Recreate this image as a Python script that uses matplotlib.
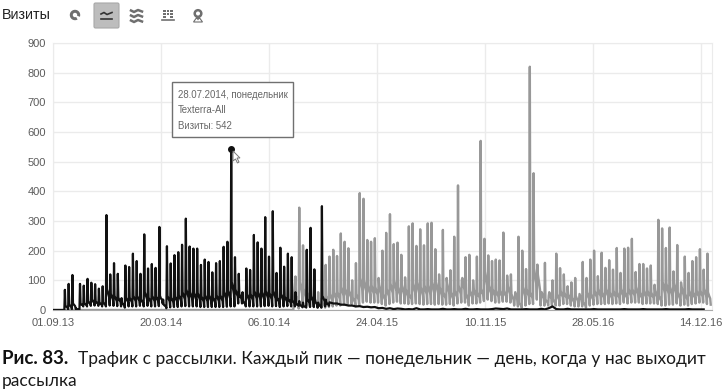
import numpy as np
import matplotlib
matplotlib.use("Agg")
import matplotlib.pyplot as plt
from matplotlib.patches import FancyBboxPatch, Rectangle, Wedge, Polygon, Circle

tick_days = [0, 200, 400, 600, 800, 1000, 1200]
tick_labels = ["01.09.13", "20.03.14", "06.10.14", "24.04.15", "10.11.15", "28.05.16", "14.12.16"]
y_ticks = [0, 100, 200, 300, 400, 500, 600, 700, 800, 900]

first_monday = 22
black_peaks = [68,88,118,5,88,82,105,92,87,72,
               80,320,120,158,122,40,150,145,190,165,
               122,255,140,155,142,280,35,215,157,185,
               195,220,308,214,207,207,152,170,162,127,
               158,165,213,230,542,178,122,60,140,135,
               253,228,207,313,180,333,125,210,146,190,
               178,60,30,25,203,277,137,25,350,35]
black_shoulders = [14,18,22,3,22,24,30,36,30,26,
                   26,70,55,48,42,24,42,42,48,48,
                   36,60,42,48,46,48,18,48,42,46,
                   50,60,70,60,58,58,46,50,50,42,
                   50,50,62,66,95,70,55,30,54,54,
                   65,60,60,65,58,65,42,54,46,38,
                   34,22,18,14,38,46,30,18,48,26]
black_troughs = [2,3,4,2,12,12,14,15,14,12,
                 12,15,14,13,12,8,12,12,12,14,
                 12,14,12,12,13,22,6,9,10,10,
                 12,13,12,12,12,10,10,10,10,10,
                 10,10,11,12,12,22,22,12,12,12,
                 12,12,13,14,12,13,10,12,13,12,
                 12,14,9,8,10,10,8,8,12,14]
black_tail = [26,22,22,18,18,15,15,12,13,10,11,9,10,6,7,4,6,3,5,4,
              2,3,2,6,2,2,3,2,2,2,4,2,2,3,2,2,4,2,2,3,
              2,2,2,3,5,4,3,5,2,2,2,2,3,2,2,2,4,2,6,12,
              3,2,2,4,2,2,2,2,2,2,3,2,2,2,2,2,2,2,3,2,
              2,2,2,3,2,2,2,2,2,3,2,2,2,2,2,3,2,2,2,2]

gray_first_week = 61
gray_peaks = [113,345,218,200,150,100,60,40,152,180,
              203,182,258,230,208,100,158,394,375,
              236,230,242,108,200,260,323,222,227,186,
              110,282,292,216,272,218,292,294,205,120,
              270,108,134,247,420,100,178,186,100,180,
              570,240,184,165,170,167,261,116,120,35,
              247,200,138,820,461,153,57,159,48,100,
              190,141,120,80,93,108,28,162,108,170,
              200,114,193,142,168,136,209,125,207,210,
              240,128,155,155,140,150,85,304,275,209,
              278,130,219,93,180,125,165,178,205,136,
              190]
gray_shoulders = [48,95,72,60,48,36,24,22,48,54,
                  60,60,78,72,66,42,54,108,100,84,
                  84,78,84,54,72,90,100,78,84,72,
                  54,90,95,78,84,84,95,95,78,60,
                  90,60,66,84,108,54,66,72,60,72,
                  130,84,72,66,66,66,84,54,60,24,
                  78,72,60,140,118,60,36,60,36,54,
                  66,60,54,42,48,54,26,60,54,66,
                  72,60,72,60,66,60,72,60,72,72,
                  78,60,66,66,60,66,48,95,90,78,
                  90,60,78,54,66,60,66,66,72,60]
gray_troughs = [5,15,15,12,10,8,8,8,10,12,
                15,15,18,20,20,12,15,25,28,25,
                25,25,20,15,20,25,28,22,22,20,
                20,22,20,18,20,20,18,20,18,18,
                20,15,22,25,25,15,22,22,25,30,
                35,30,25,25,28,28,25,15,12,8,
                15,20,20,35,15,15,15,15,15,15,
                20,20,15,12,12,12,8,15,18,20,
                20,20,22,20,22,20,25,22,25,25,
                25,20,22,22,22,20,15,15,18,18,
                22,15,18,15,20,22,25,25,20,18]
assert len(gray_peaks) == len(gray_shoulders) == len(gray_troughs)
assert len(black_peaks) == len(black_shoulders) == len(black_troughs)

highlight_day = 330
highlight_value = 542


def weekly(start_week, peaks, shoulders, troughs):
    xs, ys = [], []
    for i, (p, s, t) in enumerate(zip(peaks, shoulders, troughs)):
        d = first_monday + 7 * (start_week + i)
        xs += [d, d + 1, d + 3, d + 5, d + 6]
        ys += [p, s, s * 0.8, (s + t) / 2, t]
    return xs, ys


plt.rcParams["font.family"] = ["Liberation Sans", "DejaVu Sans"]
fig = plt.figure(figsize=(7.24, 3.91), dpi=100)
W, H = 724, 391
L, R, T, B = 53, 712, 43, 310
ax = fig.add_axes([L / W, 1 - B / H, (R - L) / W, (B - T) / H])
ax.set_xlim(0, (R - L) / 0.54)
ax.set_ylim(0, 900)
ax.set_xticks(tick_days)
ax.set_xticklabels(tick_labels)
ax.set_yticks(y_ticks)
ax.tick_params(length=0, labelsize=8, labelcolor="#5c5c5c", pad=5)
ax.tick_params(axis="x", pad=6)
ax.grid(True, color="#ebebeb", lw=1)
ax.set_axisbelow(True)
for s in ["top", "right", "left"]:
    ax.spines[s].set_color("#ebebeb")
ax.spines["bottom"].set_color("#aaaaaa")

gx, gy = weekly(gray_first_week, gray_peaks, gray_shoulders, gray_troughs)
gx = [0, first_monday + 7 * gray_first_week - 4] + gx
gy = [0, 0] + gy
ax.plot(gx, gy, color="#989898", lw=1.7, solid_joinstyle="round", zorder=3)

bx, by = weekly(0, black_peaks, black_shoulders, black_troughs)
tx = [first_monday + 7 * (len(black_peaks) + i) for i in range(len(black_tail))]
bx = [0, first_monday - 1] + bx + tx
by = [0, 0] + by + black_tail
ax.plot(bx, by, color="#111111", lw=1.6, solid_joinstyle="round", zorder=4)
ax.plot([highlight_day], [highlight_value], "o", color="#111111", ms=4, zorder=5)

ov = fig.add_axes([0, 0, 1, 1], zorder=10)
ov.set_xlim(0, W)
ov.set_ylim(H, 0)
ov.axis("off")

ov.add_patch(Rectangle((172, 82), 121, 55, fc="white", ec="#707070", lw=1))
for y, t in zip([94.5, 110, 126], ["28.07.2014, понедельник", "Texterra-All", "Визиты: 542"]):
    ov.text(178, y, t, fontsize=6.9, color="#666666", va="center", ha="left")
ov.add_patch(Polygon([(233, 151), (233, 161), (235.5, 159), (237.5, 163), (239, 162), (237, 158), (240, 158)],
                     fc="white", ec="#777777", lw=0.7))

ov.text(2, 15, "Визиты", fontsize=10.3, color="#222222", va="center", ha="left")
ic = "#6f6f6f"
ov.add_patch(Wedge((75, 15), 5.2, 60, 380, width=3.0, fc=ic, ec="none"))
ov.add_patch(FancyBboxPatch((94, 3), 25, 25, boxstyle="round,pad=0,rounding_size=1.5", fc="#bdbdbd", ec="#a8a8a8", lw=0.8))
ov.plot([101, 104, 107, 112], [14, 12.5, 14.5, 12.5], color="#333333", lw=1.2)
ov.plot([101, 112], [19, 19], color="#333333", lw=1.2)
for dy in [0, 5, 10]:
    ov.plot([131, 134, 138, 142], [10.5 + dy, 12 + dy, 10 + dy, 11.5 + dy], color=ic, lw=1.8)
for x0, n in zip([163, 166.5, 170], [3, 2, 3]):
    for k in range(n):
        ov.add_patch(Rectangle((x0, 9.5 + k * 3), 2.7, 2.6, fc=ic, ec="none"))
ov.plot([162, 173.5], [20, 20], color=ic, lw=1.2)
ov.add_patch(Circle((198, 13.5), 3.3, fc="none", ec=ic, lw=1.8))
ov.add_patch(Polygon([(195, 16), (201, 16), (198, 20.5)], fc=ic, ec="none"))
ov.add_patch(Polygon([(193.5, 22), (196, 18.5), (200, 18.5), (202.5, 22)], fc="none", ec=ic, lw=0.8))

cap = ["Lato", "DejaVu Sans"]
ov.text(2, 364, "Рис. 83.", fontsize=13.5, fontweight="bold", family=cap, color="#111111", va="baseline")
ov.text(78, 364, "Трафик с рассылки. Каждый пик — понедельник — день, когда у нас выходит",
        fontsize=12.5, family=cap, color="#1a1a1a", va="baseline")
ov.text(2, 386, "рассылка", fontsize=12.5, family=cap, color="#1a1a1a", va="baseline")

fig.savefig("out.png", dpi=100)
